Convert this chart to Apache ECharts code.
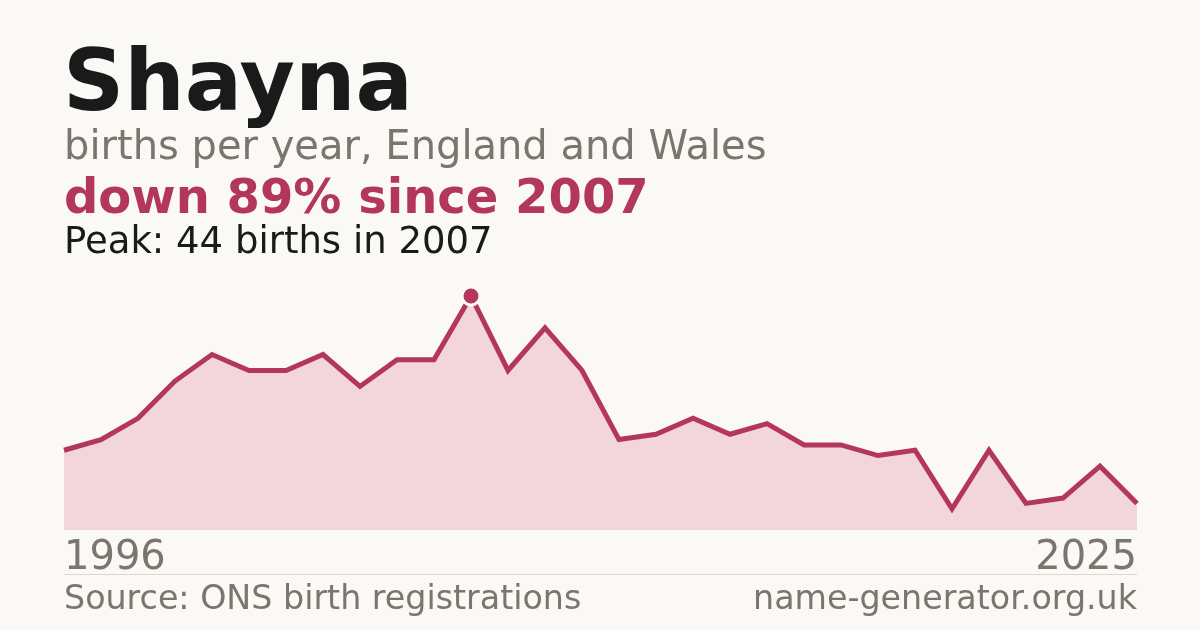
<!DOCTYPE html>
<html>
<head>
<meta charset="utf-8">
<script src="https://cdn.jsdelivr.net/npm/echarts@6/dist/echarts.min.js"></script>
<style>
  html, body { margin: 0; padding: 0; background: #faf9f5; }
  #main { width: 1200px; height: 630px; }
</style>
</head>
<body>
<div id="main"></div>
<script>
// births per year
var years = ['1996','1997','1998','1999','2000','2001','2002','2003','2004','2005',
             '2006','2007','2008','2009','2010','2011','2012','2013','2014','2015',
             '2016','2017','2018','2019','2020','2021','2022','2023','2024','2025'];
var births = [15, 17, 21, 28, 33, 30, 30, 33, 27, 32,
              32, 44, 30, 38, 30, 17, 18, 21, 18, 20,
              16, 16, 14, 15, 4, 15, 5, 6, 12, 5];
var peakYear = '2007';
var axisLabels = ['1996', '2025'];

var red = '#b3375a';
var grey = '#7a756d';
var font = 'DejaVu Sans';

var myChart = echarts.init(document.getElementById('main'));

var seriesData = births.map(function(v, i){
    if (years[i] === peakYear) {
        return {
            value: v,
            symbol: 'circle',
            symbolSize: 18,
            itemStyle: { color: red, borderColor: '#faf9f5', borderWidth: 3 }
        };
    }
    return { value: v, symbol: 'none' };
});

var option = {
    backgroundColor: '#faf9f5',
    animation: false,
    grid: { left: 64, right: 63, top: 296, bottom: 100 },
    xAxis: {
        type: 'category',
        data: years,
        boundaryGap: false,
        axisLine: { show: false },
        axisTick: { show: false },
        splitLine: { show: false },
        axisLabel: {
            interval: 0,
            margin: 9,
            fontFamily: font,
            fontSize: 40,
            color: grey,
            alignMinLabel: 'left',
            alignMaxLabel: 'right',
            formatter: function(v){ return axisLabels.indexOf(v) >= 0 ? v : ''; }
        }
    },
    yAxis: {
        type: 'value',
        min: 0,
        max: 44,
        show: false
    },
    series: [{
        type: 'line',
        data: seriesData,
        showSymbol: true,
        clip: false,
        lineStyle: { color: red, width: 5, join: 'miter' },
        itemStyle: { color: red },
        areaStyle: { color: '#f2d6db', opacity: 1 },
        z: 2
    }],
    graphic: [
        { type: 'text', left: 63, top: 45, style: { text: 'Shayna', font: 'bold 85px "DejaVu Sans"', fill: '#1a1a1a' } },
        { type: 'text', left: 64, top: 129, style: { text: 'births per year, England and Wales', font: '40px "DejaVu Sans"', fill: grey } },
        { type: 'text', left: 64, top: 177, style: { text: 'down 89% since 2007', font: 'bold 48px "DejaVu Sans"', fill: red } },
        { type: 'text', left: 64, top: 225, style: { text: 'Peak: 44 births in 2007', font: '37px "DejaVu Sans"', fill: '#1a1a1a' } },
        { type: 'line', shape: { x1: 64, y1: 574.5, x2: 1137, y2: 574.5 }, style: { stroke: '#dcd8d0', lineWidth: 1 } },
        { type: 'text', left: 64, top: 584, style: { text: 'Source: ONS birth registrations', font: '33.3px "DejaVu Sans"', fill: grey } },
        { type: 'text', right: 63, top: 584, style: { text: 'name-generator.org.uk', font: '33.3px "DejaVu Sans"', fill: grey } }
    ]
};
myChart.setOption(option);
</script>
</body>
</html>
